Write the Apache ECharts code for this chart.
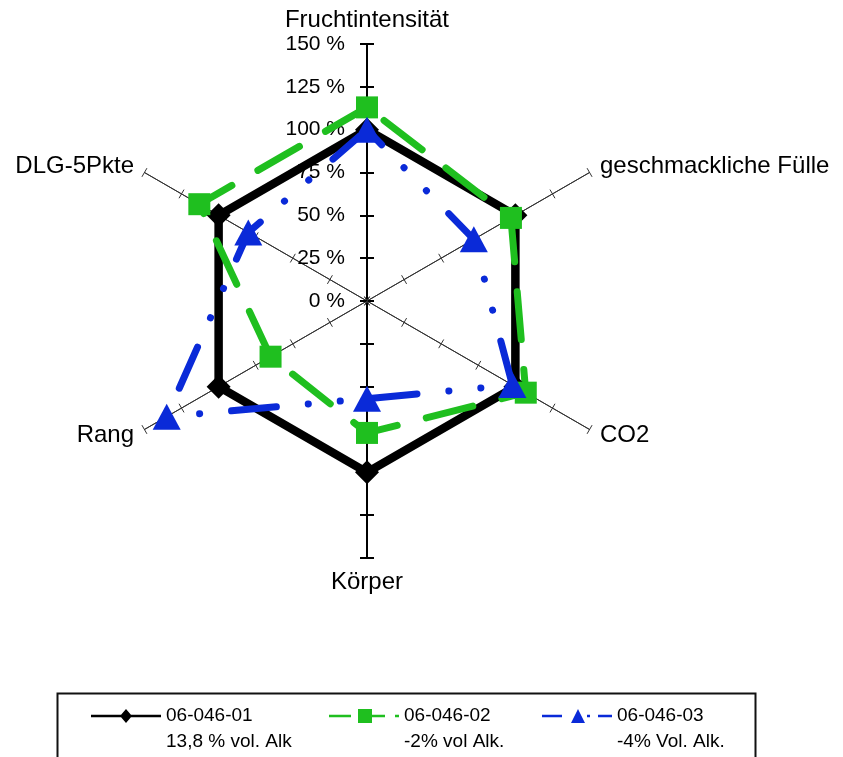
<!DOCTYPE html>
<html><head><meta charset="utf-8">
<script src="https://cdn.jsdelivr.net/npm/echarts@6/dist/echarts.min.js"></script>
<style>html,body{margin:0;padding:0;background:#fff}#c{width:843px;height:757px}</style>
</head><body><div id="c"></div>
<script>
// Indicators in ECharts radar order (counter-clockwise from the top)
const categories = ['Fruchtintensität', 'DLG-5Pkte', 'Rang', 'Körper', 'CO2', 'geschmackliche Fülle'];
const seriesNames = ['06-046-01', '06-046-02', '06-046-03'];
const seriesSubtitles = ['13,8 % vol. Alk', '-2% vol Alk.', '-4% Vol. Alk.'];
const values01 = [100, 100, 100, 100, 100, 100];
const values02 = [113, 113, 65, 77, 107, 97];
const values03 = [100, 80, 135, 57, 98, 72];
const tickValues = [0, 25, 50, 75, 100, 125, 150];

const FONT = '"Liberation Sans", Arial, sans-serif';
const colors = ['#000000', '#1fbf1f', '#0a2ad8'];
const axisMax = tickValues[tickValues.length - 1];
const splitN = tickValues.length - 1;
const CENTER = [367, 301];
const RADIUS = 257;

function indicators(withLabels, tickSign) {
  return categories.map(function (name, i) {
    const vertical = (i === 0 || i === 3);
    return {
      name: name,
      min: tickValues[0],
      max: axisMax,
      axisLabel: { show: withLabels && i === 0 },
      axisLine: { lineStyle: { color: vertical ? '#000' : '#333', width: vertical ? 2 : 1 } },
      axisTick: { length: tickSign * (vertical ? 7 : 5), lineStyle: { color: vertical ? '#000' : '#333', width: vertical ? 2 : 1 } }
    };
  });
}

const radarBase = {
  center: CENTER,
  radius: RADIUS,
  startAngle: 90,
  shape: 'polygon',
  splitNumber: splitN,
  splitLine: { show: false },
  splitArea: { show: false },
  axisLine: { show: true },
  axisTick: { show: true }
};

const legendIcons = [
  'path://M0,5.8H70V8.2H0Z M35,0L41,7L35,14L29,7Z',
  'path://M0,5.8H22V8.2H0Z M29,0H43V14H29Z M43,5.8H56V8.2H43Z M66,5.8H70V8.2H66Z',
  'path://M0,5.8H20V8.2H0Z M36,0L43,14H29Z M45,5.8H48V8.2H45Z M56,5.8H70V8.2H56Z'
];
const legendLeft = [91, 329, 542];

const chart = echarts.init(document.getElementById('c'), null, { renderer: 'canvas' });
chart.setOption({
  backgroundColor: '#fff',
  animation: false,
  radar: [
    Object.assign({}, radarBase, {
      indicator: indicators(true, 1),
      nameGap: 12,
      axisName: { color: '#000', fontSize: 24, fontFamily: FONT },
      axisLabel: {
        show: true, color: '#000', fontSize: 21, fontFamily: FONT, margin: 22,
        formatter: function (v) { return v + ' %'; }
      }
    }),
    Object.assign({}, radarBase, {
      indicator: indicators(false, -1),
      axisName: { show: false },
      axisLabel: { show: false }
    })
  ],
  legend: seriesNames.map(function (n, i) {
    return {
      left: legendLeft[i], top: 677, padding: 0,
      orient: 'horizontal', selectedMode: false,
      itemWidth: 70, itemHeight: 14, itemGap: 0,
      textStyle: { color: '#000', fontSize: 19, fontFamily: FONT, lineHeight: 26 },
      formatter: function (name) { return '\n' + name + '\n' + seriesSubtitles[seriesNames.indexOf(name)]; },
      data: [{ name: n, icon: legendIcons[i], itemStyle: { color: colors[i], borderWidth: 0 } }]
    };
  }),
  graphic: [{
    type: 'rect', left: 55, top: 691, silent: true,
    shape: { width: 698, height: 100 },
    style: { fill: 'none', stroke: '#111', lineWidth: 2 }
  }],
  series: [{
    type: 'radar',
    radarIndex: 0,
    emphasis: { disabled: true },
    data: [
      { name: seriesNames[0], value: values01, symbol: 'diamond', symbolSize: 24,
        itemStyle: { color: colors[0] },
        lineStyle: { color: colors[0], width: 8.5, type: 'solid', join: 'round' } },
      { name: seriesNames[1], value: values02, symbol: 'rect', symbolSize: 22,
        itemStyle: { color: colors[1] },
        lineStyle: { color: colors[1], width: 7, type: [48, 30], cap: 'round' } },
      { name: seriesNames[2], value: values03, symbol: 'triangle', symbolSize: [28, 26],
        itemStyle: { color: colors[2] },
        lineStyle: { color: colors[2], width: 7, type: [45, 32, 0.1, 32, 0.1, 32], cap: 'round' } }
    ]
  }]
});
</script>
</body></html>
